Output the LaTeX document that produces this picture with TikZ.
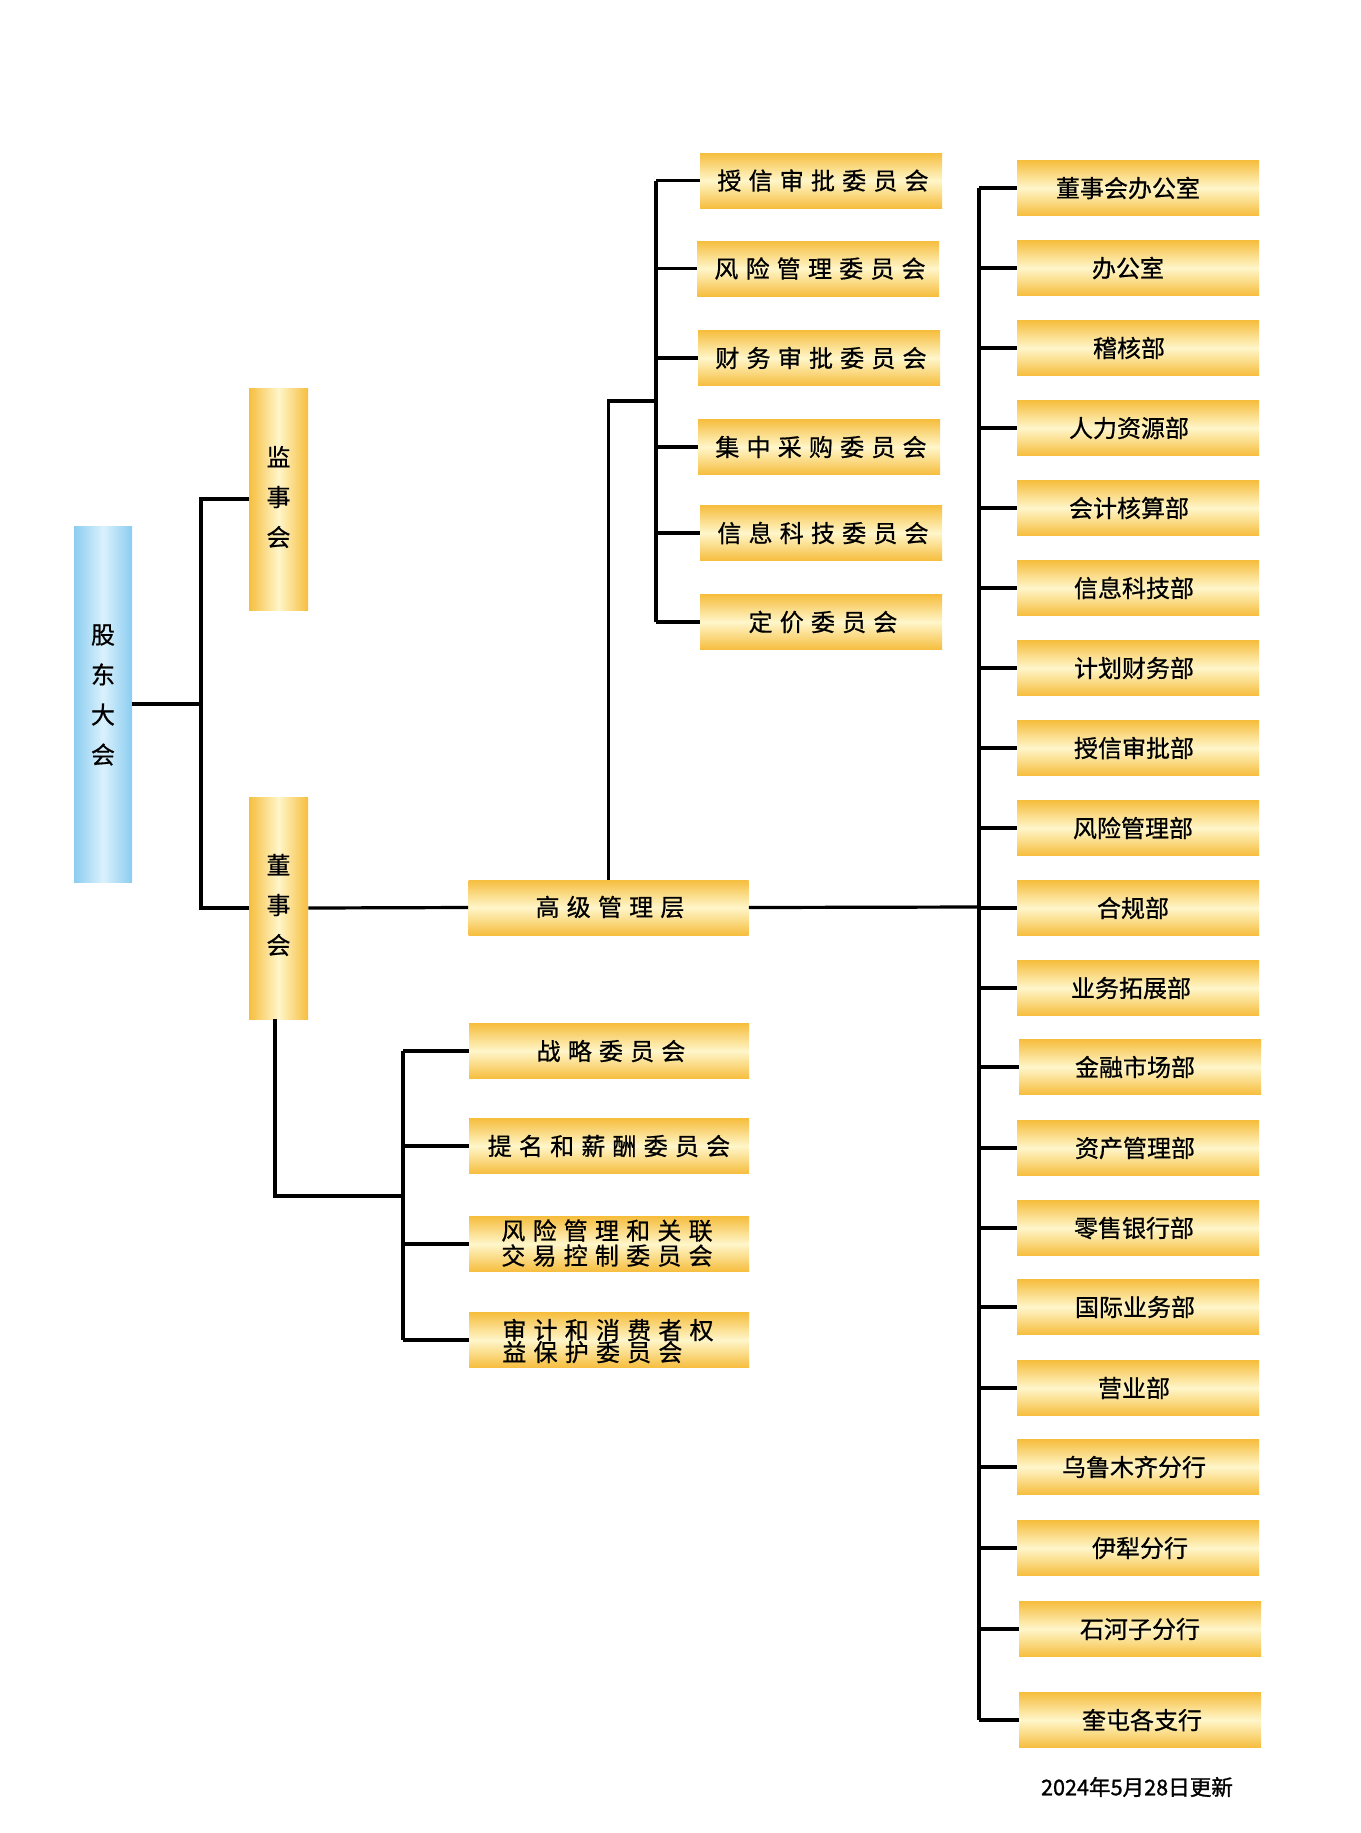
\documentclass[tikz,border=0pt]{standalone}
\usepackage{fontspec}
\newfontfamily\cjk[FakeBold=0.7]{Noto Sans CJK SC}
\newfontfamily\cjksp[LetterSpace=30,FakeBold=0.7]{Noto Sans CJK SC}
\newfontfamily\cjkdate[FakeBold=1.2]{Noto Sans CJK SC}
\definecolor{gold}{HTML}{F6BE3E}
\definecolor{goldlight}{HTML}{FFF6CA}
\definecolor{sky}{HTML}{8BCDF0}
\definecolor{skylight}{HTML}{DAF1FC}
\begin{document}
\begin{tikzpicture}[x=0.5pt,y=-0.5pt,
  hbox/.style={rectangle, inner sep=0pt, minimum width=121pt, minimum height=27.5pt,
    top color=gold, bottom color=gold, middle color=goldlight},
  wbox/.style={hbox, minimum width=140pt},
  vbox/.style={rectangle, inner sep=0pt, minimum width=29.5pt, minimum height=111pt,
    left color=gold, right color=gold, middle color=goldlight},
  bluebox/.style={rectangle, inner sep=0pt, minimum width=29pt, minimum height=178pt,
    left color=sky, right color=sky, middle color=skylight},
  vtxt/.style={font=\cjk\fontsize{12pt}{20pt}\selectfont, align=center, inner sep=0pt},
  ctxt/.style={font=\cjksp\fontsize{12pt}{14pt}\selectfont, inner sep=0pt},
  c2txt/.style={font=\cjksp\fontsize{12pt}{14pt}\selectfont, inner sep=0pt, align=left},
  dtxt/.style={font=\cjk\fontsize{12pt}{14pt}\selectfont, inner sep=0pt},
  conn/.style={line width=1.6pt, black}]
\useasboundingbox (0,0) rectangle (1361,1833);

% left column
\node[bluebox] (gd) at (103,704) {};
\node[vtxt] (gdt) at (103,695) {股\\东\\大\\会};
\node[vbox] (js) at (278.5,499) {};
\node[vtxt] (jst) at (278.5,497) {监\\事\\会};
\node[vbox] (ds) at (278.5,908) {};
\node[vtxt] (dst) at (278.5,905) {董\\事\\会};

% senior management
\node[wbox] (gl) at (608.5,907.5) {};
\node[ctxt] (glt) at (610,907) {高级管理层};

% management committees
\foreach \n/\cx/\cy/\t in {c1/821/180.5/授信审批委员会, c2/818/268.5/风险管理委员会,
  c3/819/358/财务审批委员会, c4/819/447/集中采购委员会, c5/821/533/信息科技委员会,
  c6/821/622/定价委员会}{
  \node[hbox] (\n) at (\cx,\cy) {};
  \node[ctxt] (\n t) at (\cx+2,\cy) {\t};
}

% board committees
\node[wbox] (b1) at (609,1051) {};
\node[ctxt] (b1t) at (611,1051) {战略委员会};
\node[wbox] (b2) at (609,1146) {};
\node[ctxt] (b2t) at (609,1146) {提名和薪酬委员会};
\node[wbox] (b3) at (609,1244) {};
\node[c2txt, anchor=west] (b3t) at (501,1243) {风险管理和关联\\[-1.5pt]交易控制委员会};
\node[wbox] (b4) at (609,1340) {};
\node[c2txt, anchor=west] (b4t) at (502,1341) {审计和消费者权\\[-3pt]益保护委员会};

% departments
\foreach \n/\bx/\cy/\tx/\t in {
  d1/1138/188/1128/董事会办公室, d2/1138/268/1128/办公室, d3/1138/348/1129/稽核部,
  d4/1138/428/1129/人力资源部, d5/1138/508/1129/会计核算部, d6/1138/588/1134/信息科技部,
  d7/1138/668/1134/计划财务部, d8/1138/748/1134/授信审批部, d9/1138/828/1133/风险管理部,
  d10/1138/908/1133/合规部, d11/1138/988/1131/业务拓展部, d12/1140/1067/1135/金融市场部,
  d13/1138/1148/1135/资产管理部, d14/1138/1228/1134/零售银行部, d15/1138/1307/1135/国际业务部,
  d16/1138/1388/1134/营业部, d17/1138/1467/1134/乌鲁木齐分行, d18/1138/1548/1140/伊犁分行,
  d19/1140/1629/1140/石河子分行, d20/1140/1720/1142/奎屯各支行}{
  \node[hbox] (\n) at (\bx,\cy) {};
  \node[dtxt] (\n t) at (\tx,\cy) {\t};
}

\node[font=\cjkdate\fontsize{10.8pt}{13pt}\selectfont, inner sep=0pt] (date) at (1137,1787) {2024年5月28日更新};

% connectors
\coordinate (lsp) at (201,704);
\draw[conn] (gd.east) -- (lsp);
\draw[conn] (js.west) -| (lsp) |- (ds.west);
\draw[conn] (ds.east) -- (gl.west);

\coordinate (csp) at (656,401);
\draw[conn] (gl.north) |- (csp);
\draw[conn] (c1.west -| csp) -- (c6.west -| csp);
\foreach \n in {c1,c2,c3,c4,c5,c6}{\draw[conn] (\n.west) -- (\n.west -| csp);}

\coordinate (dsp) at (979,907);
\draw[conn] (gl.east) -- (dsp);
\draw[conn] (d1.west -| dsp) -- (d20.west -| dsp);
\foreach \n in {d1,d2,d3,d4,d5,d6,d7,d8,d9,d10,d11,d12,d13,d14,d15,d16,d17,d18,d19,d20}{
  \draw[conn] (\n.west) -- (\n.west -| dsp);}

\coordinate (bk) at (275,1196);
\coordinate (bsp) at (403,1196);
\draw[conn] (ds.south -| bk) -- (bk) -- (bsp);
\draw[conn] (b1.west -| bsp) -- (b4.west -| bsp);
\foreach \n in {b1,b2,b3,b4}{\draw[conn] (\n.west) -- (\n.west -| bsp);}
\end{tikzpicture}
\end{document}
